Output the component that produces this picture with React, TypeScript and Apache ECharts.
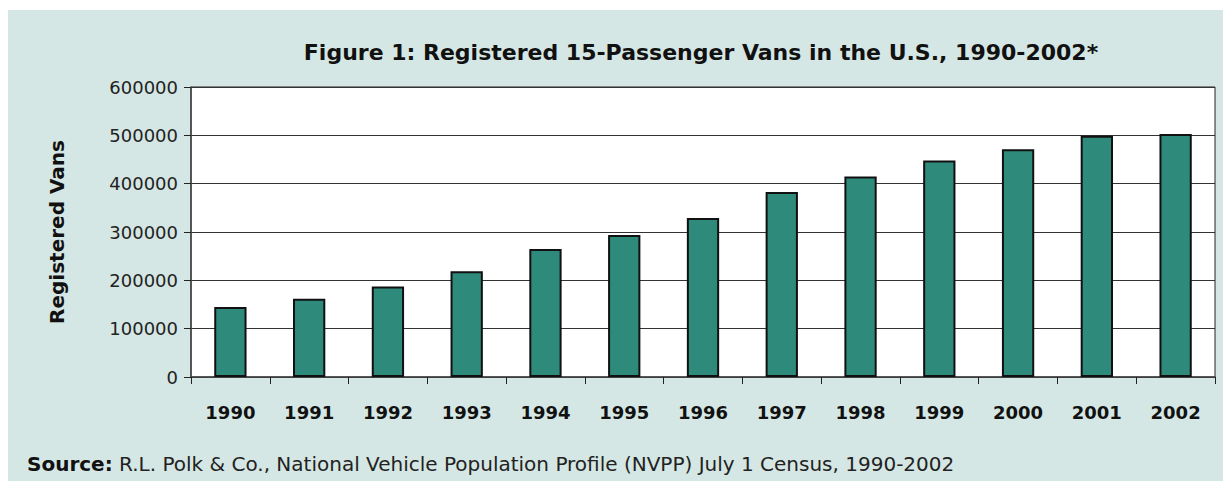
import React, { useEffect, useRef } from "react";
import * as echarts from "echarts";

const years = ["1990", "1991", "1992", "1993", "1994", "1995", "1996", "1997", "1998", "1999", "2000", "2001", "2002"];
const registeredVans = [145000, 162000, 187000, 219000, 265000, 294000, 329000, 383000, 415000, 448000, 471000, 499000, 503000];
const yTicks = { min: 0, max: 600000, interval: 100000 };
const titleText = "Figure 1: Registered 15-Passenger Vans in the U.S., 1990-2002*";
const yAxisName = "Registered Vans";
const sourceLabel = "Source:";
const sourceText = " R.L. Polk & Co., National Vehicle Population Profile (NVPP) July 1 Census, 1990-2002";

const FONT = "'DejaVu Sans', sans-serif";

export default function App() {
  const ref = useRef<HTMLDivElement>(null);
  useEffect(() => {
    if (!ref.current) return;
    const chart = echarts.init(ref.current, null, { renderer: "svg" });
    chart.setOption({
      animation: false,
      backgroundColor: "#ffffff",
      textStyle: { fontFamily: FONT },
      graphic: [
        {
          type: "rect",
          z: -10,
          silent: true,
          shape: { x: 8, y: 10, width: 1215, height: 471 },
          style: { fill: "#d5e7e4" },
        },
        {
          type: "text",
          x: 701,
          y: 52,
          style: {
            text: titleText,
            fontFamily: FONT,
            fontWeight: "bold",
            fontSize: 22,
            fill: "#111",
            textAlign: "center",
            textVerticalAlign: "middle",
          },
        },
        {
          type: "text",
          x: 27,
          y: 464,
          style: {
            text: "{b|" + sourceLabel + "}{r|" + sourceText + "}",
            textVerticalAlign: "middle",
            rich: {
              b: { fontFamily: FONT, fontWeight: "bold", fontSize: 20, fill: "#111" },
              r: { fontFamily: FONT, fontSize: 20, fill: "#222" },
            },
          },
        },
      ],
      grid: {
        left: 191,
        right: 8,
        top: 87,
        bottom: 105,
        show: true,
        backgroundColor: "#ffffff",
        borderColor: "#222",
        borderWidth: 1,
      },
      xAxis: {
        type: "category",
        data: years,
        boundaryGap: true,
        axisLine: { show: true, lineStyle: { color: "#444", width: 1.5 } },
        axisTick: { show: true, length: 7, lineStyle: { color: "#222" } },
        axisLabel: {
          fontFamily: FONT,
          fontWeight: "bold",
          fontSize: 18,
          color: "#111",
          margin: 26,
        },
      },
      yAxis: {
        type: "value",
        min: yTicks.min,
        max: yTicks.max,
        interval: yTicks.interval,
        name: yAxisName,
        nameLocation: "middle",
        nameRotate: 90,
        nameGap: 124,
        nameTextStyle: { fontFamily: FONT, fontWeight: "bold", fontSize: 20, color: "#111" },
        axisLine: { show: true, lineStyle: { color: "#444", width: 1.5 } },
        axisTick: { show: true, length: 7, lineStyle: { color: "#222" } },
        axisLabel: {
          fontFamily: FONT,
          fontSize: 18,
          color: "#222",
          margin: 13,
          formatter: (v: number) => String(v),
        },
        splitLine: { show: true, lineStyle: { color: "#333", width: 1 } },
      },
      series: [
        {
          type: "bar",
          data: registeredVans,
          barWidth: "41%",
          itemStyle: { color: "#2e8b7b", borderColor: "#111", borderWidth: 2 },
        },
      ],
    });
    return () => chart.dispose();
  }, []);
  return (
    <div
      ref={ref}
      style={{ position: "fixed", left: 0, top: 0, width: 1223, height: 482 }}
    />
  );
}
